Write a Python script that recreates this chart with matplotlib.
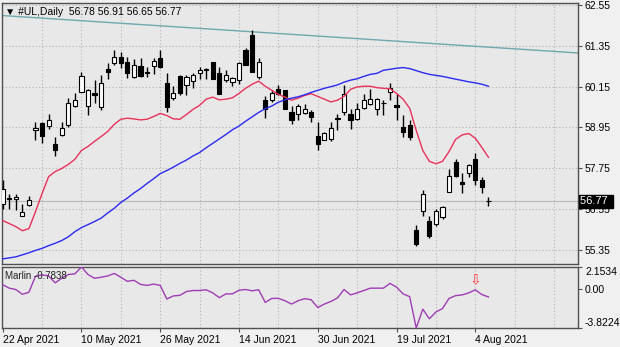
import matplotlib
matplotlib.use("Agg")
import matplotlib.pyplot as plt
import matplotlib.transforms as mtrans
import numpy as np

plt.rcParams["font.family"] = ["Liberation Sans", "DejaVu Sans"]

# ---- data (#UL daily, 22 Apr - 6 Aug 2021) ----
date_labels = ["22 Apr 2021", "10 May 2021", "26 May 2021", "14 Jun 2021",
               "30 Jun 2021", "19 Jul 2021", "4 Aug 2021"]
date_bars = [0, 12, 24, 36, 48, 60, 72]

opens = [56.71, 56.88, 56.83, 56.35, 56.68, 58.86, 59.07, 58.98, 58.45, 58.74,
         59.01, 59.57, 59.98, 59.57, 59.95, 59.54, 60.66, 60.84, 61.02, 60.87,
         60.43, 60.75, 60.58, 60.75, 60.99, 60.25, 59.81, 60.46, 60.19, 60.31,
         60.55, 60.64, 60.86, 60.55, 60.34, 60.29, 60.34, 61.22, 61.67, 60.42,
         59.77, 59.75, 60.09, 60.04, 59.40, 59.33, 59.38, 59.40, 58.71, 58.58,
         58.61, 59.19, 59.40, 59.35, 59.21, 59.53, 59.65, 59.50, 59.66, 59.99,
         59.60, 58.96, 59.01, 55.93, 56.50, 56.21, 56.11, 56.30, 57.06, 57.92,
         57.33, 57.60, 58.02, 57.39, 56.78]
highs = [57.39, 57.00, 57.00, 56.71, 56.92, 59.10, 59.10, 59.33, 58.68, 59.10,
         59.81, 59.95, 60.57, 60.07, 60.34, 60.49, 60.84, 61.22, 61.16, 61.02,
         60.96, 60.99, 60.72, 60.99, 61.22, 60.54, 60.16, 60.49, 60.49, 60.54,
         60.73, 60.69, 60.88, 60.73, 60.63, 60.44, 60.88, 61.30, 61.81, 60.98,
         59.87, 60.04, 60.19, 60.06, 59.57, 59.65, 59.65, 59.45, 59.11, 58.81,
         59.11, 59.33, 60.19, 59.50, 59.67, 59.93, 60.07, 59.80, 59.75, 60.26,
         59.93, 59.30, 59.16, 56.09, 57.11, 56.35, 56.55, 56.65, 57.73, 58.02,
         57.60, 57.87, 58.20, 57.49, 56.91]
lows = [56.56, 56.56, 56.53, 56.33, 56.65, 58.57, 58.48, 58.89, 58.10, 58.71,
        58.95, 59.54, 59.98, 59.31, 59.66, 59.45, 60.37, 60.78, 60.69, 60.40,
        60.40, 60.43, 60.43, 60.51, 60.69, 59.39, 59.75, 59.89, 59.89, 60.10,
        60.37, 60.37, 60.37, 59.92, 60.29, 60.16, 60.24, 60.78, 60.58, 60.37,
        59.24, 59.70, 59.90, 59.50, 59.06, 59.18, 59.35, 59.11, 58.27, 58.57,
        58.55, 58.86, 59.30, 58.90, 59.16, 59.50, 59.62, 59.30, 59.30, 59.77,
        59.18, 58.66, 58.57, 55.47, 56.35, 55.70, 56.06, 56.26, 57.04, 57.50,
        57.01, 57.50, 57.24, 57.01, 56.65]
closes = [57.15, 56.85, 56.89, 56.47, 56.80, 58.92, 58.71, 59.16, 58.27, 58.92,
          59.66, 59.75, 60.46, 60.04, 59.89, 60.25, 60.57, 61.02, 60.84, 60.54,
          60.78, 60.46, 60.56, 60.90, 60.72, 59.54, 59.95, 59.95, 60.43, 60.49,
          60.63, 60.66, 60.37, 59.94, 60.48, 60.39, 60.83, 60.80, 60.58, 60.88,
          59.48, 59.96, 59.92, 59.50, 59.18, 59.57, 59.50, 59.27, 58.47, 58.78,
          58.94, 59.22, 59.93, 59.18, 59.48, 59.75, 59.78, 59.78, 59.68, 60.12,
          59.55, 58.81, 58.66, 55.52, 56.99, 55.74, 56.48, 56.60, 57.53, 57.51,
          57.29, 57.83, 57.40, 57.19, 56.77]

ma_fast = [56.21, 56.12, 56.03, 55.91, 55.97, 56.47, 57.00, 57.50, 57.65, 57.74,
           57.86, 58.01, 58.27, 58.39, 58.54, 58.68, 58.83, 59.04, 59.19, 59.22,
           59.20, 59.17, 59.19, 59.27, 59.36, 59.30, 59.20, 59.19, 59.33, 59.48,
           59.60, 59.78, 59.84, 59.76, 59.78, 59.82, 59.95, 60.10, 60.22, 60.31,
           60.16, 60.04, 59.92, 59.84, 59.75, 59.81, 59.89, 59.94, 59.86, 59.78,
           59.70, 59.75, 59.86, 60.07, 60.14, 60.16, 60.16, 60.12, 60.10, 60.09,
           59.95, 59.78, 59.51, 58.86, 58.27, 57.95, 57.88, 57.95, 58.24, 58.60,
           58.73, 58.77, 58.63, 58.36, 58.07]
ma_slow = [55.08, 55.11, 55.14, 55.20, 55.26, 55.33, 55.39, 55.47, 55.54, 55.62,
           55.73, 55.88, 56.00, 56.09, 56.18, 56.28, 56.43, 56.57, 56.74, 56.87,
           57.02, 57.15, 57.30, 57.44, 57.59, 57.68, 57.78, 57.89, 57.99, 58.11,
           58.21, 58.35, 58.48, 58.61, 58.74, 58.88, 58.99, 59.13, 59.26, 59.39,
           59.50, 59.58, 59.69, 59.76, 59.81, 59.85, 59.91, 59.98, 60.04, 60.10,
           60.15, 60.20, 60.28, 60.34, 60.38, 60.45, 60.51, 60.54, 60.63, 60.66,
           60.69, 60.71, 60.68, 60.62, 60.56, 60.51, 60.48, 60.45, 60.41, 60.37,
           60.33, 60.29, 60.26, 60.22, 60.16]

trend_bars = [0, 87.6]
trend_prices = [62.24, 61.14]

marlin = [0.42, 0.08, -0.05, -0.52, -0.32, 1.25, 1.38, 1.28, 0.60, 1.05,
          1.42, 1.48, 2.1534, 1.42, 1.05, 1.15, 1.28, 1.52, 1.15, 0.75,
          0.85, 0.45, 0.35, 0.48, 0.35, -0.98, -0.68, -0.62, -0.25, -0.15,
          -0.15, -0.08, -0.38, -0.85, -0.48, -0.48, -0.12, -0.05, -0.18, -0.08,
          -1.32, -0.92, -0.92, -1.15, -1.48, -1.15, -0.95, -1.05, -1.82, -1.48,
          -1.22, -0.88, -0.05, -0.58, -0.38, -0.15, 0.08, 0.08, 0.08, 0.55,
          0.18, -0.48, -0.75, -3.8224, -1.98, -2.92, -2.25, -1.92, -0.92, -0.65,
          -0.58, -0.38, -0.08, -0.55, -0.78]
signal_bar, signal_level = 72, 0.9

price_ticks = [55.35, 56.55, 57.75, 58.95, 60.15, 61.35, 62.55]
last_price = 56.77

# ---- style ----
BG = "#f0f0f0"
PLOT_BG = "#e8e8e8"
FRAME = "#505050"
GRID = "#b4b4b4"
FS = 7.5

W, H = 620, 347
fig = plt.figure(figsize=(W / 100, H / 100), dpi=100, facecolor=BG)


def px(l, t, r, b):
    return [l / W, 1 - b / H, (r - l) / W, (b - t) / H]


ax = fig.add_axes(px(2, 3, 578, 264))
ai = fig.add_axes(px(2, 267, 578, 328), sharex=ax)

for a in (ax, ai):
    a.set_facecolor(PLOT_BG)
    for s in a.spines.values():
        s.set_color(FRAME)
        s.set_linewidth(1.0)
    for gx in range(6, 88, 6):
        a.axvline(gx, color=GRID, lw=0.8, ls=(0, (1, 2)), zorder=1)

# ---- main pane ----
x = np.arange(len(opens))
o, h, l, c = (np.array(v) for v in (opens, highs, lows, closes))
up = c >= o

for p in price_ticks:
    ax.axhline(p, color=GRID, lw=0.8, ls=(0, (1, 2)), zorder=1)
ax.axhline(last_price, color="#bcbcbc", lw=0.9, zorder=1.5)

ax.plot(trend_bars, trend_prices, color="#6fa9a9", lw=1.0, zorder=2)

ax.vlines(x, l, h, color="black", lw=1.0, zorder=3)
ax.bar(x, np.maximum(np.abs(c - o), 0.012), bottom=np.minimum(o, c), width=0.64,
       color=np.where(up, "white", "black"), edgecolor="black", lw=0.8, zorder=4)

ax.plot(x, ma_fast, color="#e8325a", lw=1.0, zorder=5)
ax.plot(x, ma_slow, color="#2a2af0", lw=1.0, zorder=5)

ax.set_xlim(-0.1, 87.64)
ax.set_ylim(54.93, 62.61)
ax.yaxis.tick_right()
ax.set_yticks(price_ticks)
ax.set_yticklabels([f"{p:.2f}" for p in price_ticks])
ax.tick_params(axis="y", labelsize=FS, length=3, width=0.8, pad=2, color=FRAME)
ax.tick_params(axis="x", which="both", bottom=False, labelbottom=False)

ax.text(0.006, 0.985, "▼ #UL,Daily  56.78 56.91 56.65 56.77", transform=ax.transAxes,
        ha="left", va="top", fontsize=FS, color="black", zorder=10)

# current price marker on the right scale (sits over the 56.55 label, as in MT4)
tr = mtrans.blended_transform_factory(ax.transAxes, ax.transData)
ax.text(1.004, last_price, "56.77 ", transform=tr, ha="left", va="center",
        fontsize=FS + 0.5, color="white", zorder=10, clip_on=False,
        bbox=dict(boxstyle="square,pad=0.15", fc="black", ec="black"))

# ---- Marlin pane ----
ai.plot(x, marlin, color="#a03cb4", lw=1.0, zorder=4)
ai.text(signal_bar, signal_level, "⇩", ha="center", va="center", fontsize=10,
        color="#ff3a3a", family="DejaVu Sans", zorder=6)
ai.text(0.006, 0.86, "Marlin -0.7838", transform=ai.transAxes, ha="left",
        va="center", fontsize=FS - 0.5, color="#202020", zorder=10)

ai.set_ylim(-3.8224, 2.1534)
ai.yaxis.tick_right()
ai.set_yticks([2.1534, 0.0, -3.8224])
ai.set_yticklabels(["2.1534", "0.00", "-3.8224"])
ai.tick_params(axis="y", labelsize=FS, length=3, width=0.8, pad=2, color=FRAME)
ylabels = ai.get_yticklabels()
ylabels[0].set_va("top")
ylabels[2].set_va("bottom")

ai.set_xticks(date_bars)
ai.set_xticklabels(date_labels)
ai.tick_params(axis="x", labelsize=FS, length=3, width=0.8, pad=2, color=FRAME)
for lab in ai.get_xticklabels():
    lab.set_ha("left")

fig.savefig("out.png", dpi=100, facecolor=BG)
